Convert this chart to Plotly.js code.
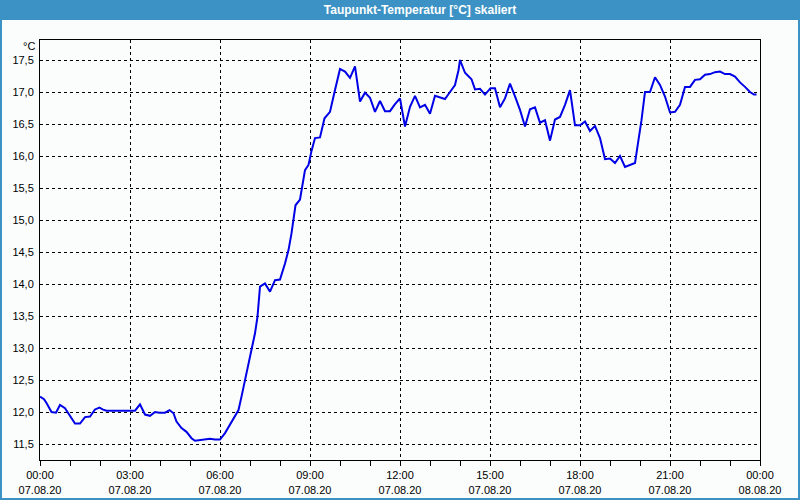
<!DOCTYPE html>
<html>
<head>
<meta charset="utf-8">
<script src="https://cdn.plot.ly/plotly-3.0.1.min.js"></script>
<style>
  html, body { margin: 0; padding: 0; background: #fbfdfd; }
  #chart { width: 800px; height: 500px; }
</style>
</head>
<body>
<div id="chart"></div>
<script>
const chartTitle = "Taupunkt-Temperatur [°C] skaliert";
const unitLabel = "°C";
const day = "2020-08-07";
const times = [
  "00:00","00:08","00:13","00:23","00:32","00:40","00:50","01:00","01:10","01:20",
  "01:30","01:40","01:50","01:59","02:05","02:13","02:23","02:37","02:50","03:00",
  "03:10","03:20","03:30","03:40","03:50","03:59","04:10","04:19","04:27","04:33",
  "04:43","04:53","05:03","05:10","05:20","05:30","05:40","05:50","06:00","06:10",
  "06:20","06:27","06:37","06:43","06:50","06:57","07:03","07:10","07:15","07:19",
  "07:20","07:30","07:40","07:50","08:00","08:10","08:17","08:23","08:28","08:31",
  "08:40","08:45","08:50","08:57","09:03","09:10","09:20","09:29","09:40","09:50",
  "10:00","10:10","10:20","10:30","10:40","10:50","11:00","11:10","11:20","11:30",
  "11:40","11:50","12:00","12:10","12:20","12:30","12:40","12:50","13:00","13:10",
  "13:20","13:30","13:40","13:50","13:57","14:00","14:10","14:23","14:30","14:40",
  "14:50","15:01","15:10","15:20","15:30","15:40","15:50","16:00","16:10","16:20",
  "16:30","16:40","16:50","17:00","17:10","17:20","17:30","17:40","17:50","18:00",
  "18:10","18:20","18:30","18:40","18:50","19:00","19:10","19:20","19:30","19:40",
  "19:50","19:55","20:03","20:10","20:20","20:30","20:40","20:50","21:00","21:10",
  "21:20","21:30","21:40","21:50","22:00","22:10","22:20","22:30","22:40","22:50",
  "23:00","23:10","23:20","23:30","23:40","23:48","23:53"
];
const dewpoint = [
  12.24,12.20,12.14,12.00,11.99,12.11,12.06,11.95,11.82,11.82,
  11.92,11.93,12.04,12.07,12.04,12.02,12.02,12.02,12.02,12.01,
  12.02,12.12,11.96,11.94,12.00,11.99,11.99,12.03,11.98,11.85,
  11.75,11.69,11.59,11.55,11.56,11.57,11.58,11.57,11.57,11.67,
  11.80,11.88,12.03,12.24,12.50,12.71,12.97,13.23,13.49,13.80,
  13.96,14.01,13.88,14.06,14.07,14.32,14.53,14.79,15.05,15.23,
  15.32,15.57,15.78,15.86,16.08,16.28,16.29,16.59,16.69,17.03,
  17.36,17.32,17.22,17.40,16.85,16.99,16.91,16.69,16.86,16.70,
  16.70,16.81,16.90,16.46,16.77,16.94,16.76,16.80,16.66,16.94,
  16.92,16.89,17.00,17.11,17.34,17.50,17.30,17.20,17.04,17.05,
  16.96,17.06,17.06,16.76,16.90,17.13,16.93,16.72,16.46,16.73,
  16.76,16.52,16.56,16.24,16.57,16.61,16.80,17.03,16.48,16.48,
  16.54,16.39,16.47,16.28,15.95,15.96,15.89,16.00,15.83,15.86,
  15.89,16.15,16.56,17.00,17.00,17.23,17.11,16.93,16.68,16.69,
  16.80,17.08,17.08,17.19,17.20,17.27,17.28,17.31,17.32,17.28,
  17.28,17.24,17.15,17.08,17.00,16.96,16.96
];

const xs = times.map(t => day + " " + t);
const barBlue = "#3c92c4";
const bg = "#fbfdfd";
const fontFam = "Liberation Sans, Arial, sans-serif";

const trace = {
  x: xs, y: dewpoint, type: "scatter", mode: "lines",
  line: { color: "#0000e6", width: 2 },
  hoverinfo: "skip"
};

const W = 800, H = 500, ml = 40, mr = 40, mt = 40, mb = 40;
const pw = W - ml - mr, ph = H - mt - mb;
const px = v => (v - ml) / pw;
const py = v => (H - mb - v) / ph;

const layout = {
  width: W, height: H,
  margin: { l: ml, r: mr, t: mt, b: mb, pad: 0 },
  paper_bgcolor: bg, plot_bgcolor: bg,
  separators: ",.",
  showlegend: false,
  font: { family: fontFam, size: 11, color: "#000" },
  title: {
    text: "<b>" + chartTitle + "</b>",
    font: { family: fontFam, size: 12, color: "#ffffff" },
    xref: "container", yref: "container",
    x: 420 / W, y: 1 - 10 / H, xanchor: "center", yanchor: "middle"
  },
  xaxis: {
    type: "date",
    range: [day + " 00:00", "2020-08-08 00:00"],
    tick0: day + " 00:00", dtick: 3 * 3600000,
    tickformat: "%H:%M<br>%d.%m.%y",
    ticks: "outside", ticklen: 5, tickcolor: "#000", tickwidth: 1,
    minor: { dtick: 3600000, ticks: "outside", ticklen: 5, tickcolor: "#000", showgrid: false },
    showgrid: true, gridcolor: "#000", gridwidth: 1, griddash: "3px,3px",
    showline: true, linecolor: "#000", linewidth: 1, mirror: true,
    zeroline: false, fixedrange: true,
    tickfont: { family: fontFam, size: 11, color: "#000" }
  },
  yaxis: {
    range: [11.25, 17.8125],
    tick0: 11.5, dtick: 0.5, tickformat: ".1f",
    ticks: "", ticklabelstandoff: 3,
    showgrid: true, gridcolor: "#000", gridwidth: 1, griddash: "3px,3px",
    showline: true, linecolor: "#000", linewidth: 1, mirror: true,
    zeroline: false, fixedrange: true,
    tickfont: { family: fontFam, size: 11, color: "#000" }
  },
  shapes: [
    { type: "rect", xref: "paper", yref: "paper", layer: "below",
      x0: px(0), x1: px(W), y0: py(20), y1: py(0),
      fillcolor: barBlue, line: { width: 0 } },
    { type: "rect", xref: "paper", yref: "paper", layer: "below",
      x0: px(0), x1: px(2), y0: py(H), y1: py(20),
      fillcolor: barBlue, line: { width: 0 } },
    { type: "rect", xref: "paper", yref: "paper", layer: "below",
      x0: px(W - 2), x1: px(W), y0: py(H), y1: py(20),
      fillcolor: barBlue, line: { width: 0 } },
    { type: "rect", xref: "paper", yref: "paper", layer: "below",
      x0: px(0), x1: px(W), y0: py(H), y1: py(H - 2),
      fillcolor: barBlue, line: { width: 0 } }
  ],
  annotations: [
    { text: unitLabel, xref: "paper", yref: "paper",
      x: px(37), y: py(46), xanchor: "right", yanchor: "middle",
      showarrow: false, font: { family: fontFam, size: 11, color: "#000" } }
  ]
};

Plotly.newPlot("chart", [trace], layout, { staticPlot: true, displayModeBar: false });
</script>
</body>
</html>
